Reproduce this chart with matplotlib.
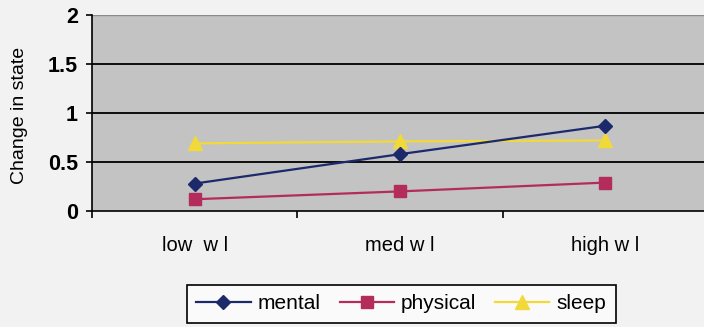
import matplotlib
matplotlib.use("Agg")
import matplotlib.pyplot as plt
import numpy as np

categories = ["low  w l", "med w l", "high w l"]
mental = [0.28, 0.58, 0.87]
physical = [0.12, 0.20, 0.29]
sleep = [0.69, 0.71, 0.72]
y_ticks = [0, 0.5, 1, 1.5, 2]
y_tick_labels = ["0", "0.5", "1", "1.5", "2"]

plt.rcParams['font.family'] = ['Liberation Sans', 'DejaVu Sans']

W, H = 704, 327
fig = plt.figure(figsize=(W / 100, H / 100), dpi=100, facecolor="#f2f2f2")
ax = fig.add_axes([92 / W, 1 - 211 / H, (708 - 92) / W, (211 - 15) / H])
ax.set_facecolor("#c3c3c3")

x = np.arange(len(categories))
ax.plot(x, sleep, color="#f2d93a", lw=1.6, marker="^", ms=10, label="sleep", zorder=3)
ax.plot(x, mental, color="#1c2a6b", lw=1.6, marker="D", ms=7.5, label="mental", zorder=4)
ax.plot(x, physical, color="#b32c5c", lw=1.6, marker="s", ms=8.5, label="physical", zorder=4)

ax.set_xlim(-0.5, len(categories) - 0.5)
ax.set_ylim(0, 2)

for yv in [0.5, 1, 1.5]:
    ax.axhline(yv, color="black", lw=1.3, zorder=1)
ax.axhline(2, color="#8a8a8a", lw=1.0, zorder=1)

for s in ["top", "right"]:
    ax.spines[s].set_visible(False)
ax.spines["left"].set_color("black")
ax.spines["bottom"].set_color("black")
ax.spines["left"].set_linewidth(1.2)
ax.spines["bottom"].set_linewidth(1.2)

ax.set_yticks(y_ticks)
ax.set_yticklabels(y_tick_labels, fontsize=15.5, fontweight="bold")
ax.tick_params(axis="y", direction="out", length=4, width=1.2, pad=6)

ax.set_xticks(x)
ax.set_xticklabels(categories, fontsize=14.5)
ax.tick_params(axis="x", which="major", length=0, pad=18)
ax.set_xticks(np.arange(-0.5, len(categories)), minor=True)
ax.tick_params(axis="x", which="minor", direction="out", length=5, width=1.2)

fig.text(20 / W, 1 - 115 / H, "Change in state", rotation=90, fontsize=14,
         ha="center", va="center")

handles, labels = ax.get_legend_handles_labels()
order = [1, 2, 0]
leg = fig.legend([handles[i] for i in order], [labels[i] for i in order],
                 loc="upper left", bbox_to_anchor=(187 / W, 1 - 285 / H),
                 ncol=3, fontsize=15, frameon=True, fancybox=False,
                 edgecolor="black", facecolor="#fafafa", framealpha=1,
                 handlelength=2.6, handletextpad=0.35, columnspacing=0.9,
                 borderpad=0.45, borderaxespad=0)
leg.get_frame().set_linewidth(1.2)

fig.savefig("out.png", dpi=100, facecolor=fig.get_facecolor())
